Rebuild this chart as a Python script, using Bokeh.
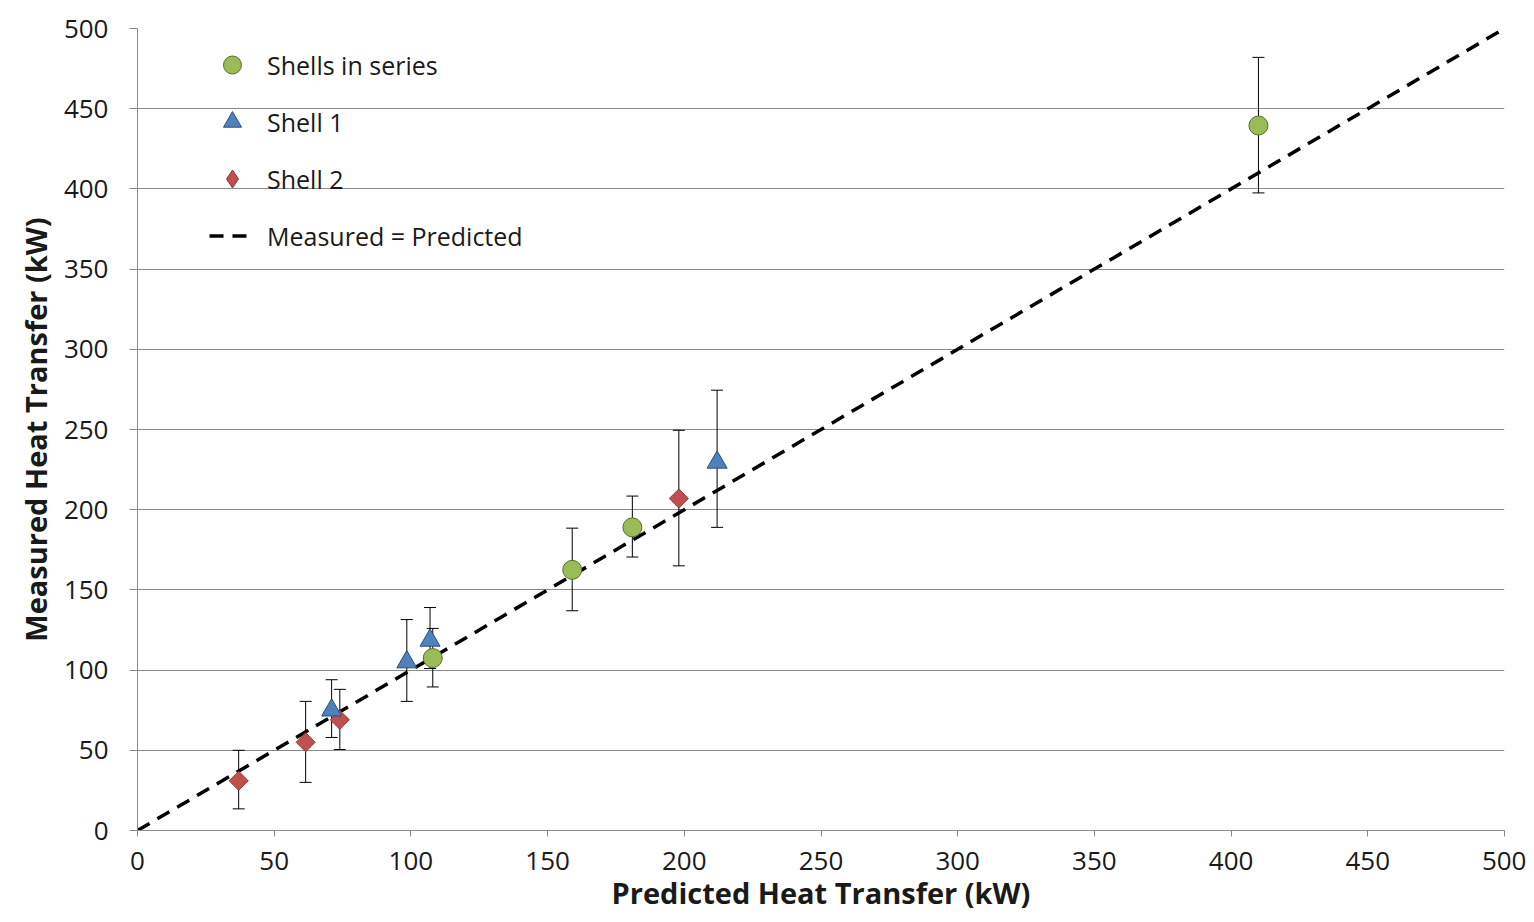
import math
from bokeh.plotting import figure
from bokeh.models import ColumnDataSource, Whisker, TeeHead, Legend, LegendItem, Range1d, FixedTicker
from bokeh.embed import file_html
from bokeh.resources import INLINE

# ---- data ----
series_x = [108, 159, 181, 410]
series_y = [107.5, 162.5, 189, 439.5]
series_lo = [89.5, 137, 170.5, 397.5]
series_hi = [126, 188.5, 208.5, 482]

shell1_x = [71, 98.5, 107, 212]
shell1_y = [75, 105, 118.5, 229.5]
shell1_lo = [58, 80.5, 101, 189]
shell1_hi = [94, 131.5, 139, 274.5]

shell2_x = [37, 61.5, 74, 198]
shell2_y = [31, 55, 69, 207]
shell2_lo = [13.5, 30, 50.5, 165]
shell2_hi = [50, 80.5, 88, 249.5]

parity_x = [0, 500]
parity_y = [0, 500]

ticks = [0, 50, 100, 150, 200, 250, 300, 350, 400, 450, 500]

FONT = "Open Sans"
TXT = "#1a1a1a"

C_GREEN, E_GREEN = "#9BBB59", "#56702A"
C_BLUE, E_BLUE = "#4F81BD", "#2C4D75"
C_RED, E_RED = "#C0504D", "#8C3A38"

p = figure(width=1526, height=914, output_backend="svg", toolbar_location=None,
           x_range=Range1d(0, 500), y_range=Range1d(0, 500),
           min_border_left=137, min_border_right=22, min_border_top=28, min_border_bottom=84)
p.outline_line_color = None
p.xgrid.grid_line_color = None
p.ygrid.grid_line_color = "#8a8a8a"
p.ygrid.grid_line_width = 1
p.ygrid.ticker = FixedTicker(ticks=ticks)

for ax in (p.xaxis[0], p.yaxis[0]):
    ax.ticker = FixedTicker(ticks=ticks)
    ax.axis_line_color = "#8a8a8a"
    ax.major_tick_line_color = "#8a8a8a"
    ax.minor_tick_line_color = None
    ax.major_tick_in = 0
    ax.major_label_text_font = FONT
    ax.major_label_text_font_size = "26px"
    ax.major_label_text_color = TXT
    ax.axis_label_text_font = FONT
    ax.axis_label_text_font_size = "29px"
    ax.axis_label_text_font_style = "bold"
    ax.axis_label_text_color = TXT

p.xaxis.major_tick_out = 6
p.yaxis.major_tick_out = 8
p.xaxis.major_label_standoff = 15
p.yaxis.major_label_standoff = 21
p.xaxis.axis_label = "Predicted Heat Transfer (kW)"
p.yaxis.axis_label = "Measured Heat Transfer (kW)"
p.xaxis.axis_label_standoff = 0
p.yaxis.axis_label_standoff = 6

# parity line
line_r = p.line(parity_x, parity_y, line_color="black", line_width=3.5, line_dash="14 9")

def add_whiskers(xs, lo, hi):
    src = ColumnDataSource(dict(x=xs, lo=lo, hi=hi))
    w = Whisker(source=src, base="x", lower="lo", upper="hi", dimension="height",
                line_color="black", line_width=1,
                upper_head=TeeHead(size=12, line_color="black", line_width=1),
                lower_head=TeeHead(size=12, line_color="black", line_width=1))
    p.add_layout(w)

add_whiskers(shell2_x, shell2_lo, shell2_hi)
add_whiskers(shell1_x, shell1_lo, shell1_hi)
add_whiskers(series_x, series_lo, series_hi)

# Shell 2: bokeh diamond (used for the legend) hidden under a rotated square
r2_leg = p.scatter(shell2_x, shell2_y, marker="diamond", size=18, fill_color=C_RED,
                   line_color=E_RED, line_width=1)
r2 = p.scatter(shell2_x, shell2_y, marker="square", size=13.5, fill_color=C_RED,
               line_color=E_RED, line_width=1, angle=math.pi / 4)
r1 = p.scatter(shell1_x, shell1_y, marker="triangle", size=20, fill_color=C_BLUE,
               line_color=E_BLUE, line_width=1)
r0 = p.scatter(series_x, series_y, marker="circle", size=19, fill_color=C_GREEN,
               line_color=E_GREEN, line_width=1)

legend = Legend(items=[
    LegendItem(label="Shells in series", renderers=[r0]),
    LegendItem(label="Shell 1", renderers=[r1]),
    LegendItem(label="Shell 2", renderers=[r2_leg]),
    LegendItem(label="Measured = Predicted", renderers=[line_r]),
], location=(72, 572))
legend.border_line_color = None
legend.background_fill_alpha = 0
legend.padding = 0
legend.margin = 0
legend.spacing = 12
legend.glyph_height = 45
legend.glyph_width = 46
legend.label_height = 45
legend.label_standoff = 12
legend.label_text_font = FONT
legend.label_text_font_size = "25px"
legend.label_text_color = TXT
p.add_layout(legend, "center")

open("out.html", "w").write(file_html(p, INLINE))
